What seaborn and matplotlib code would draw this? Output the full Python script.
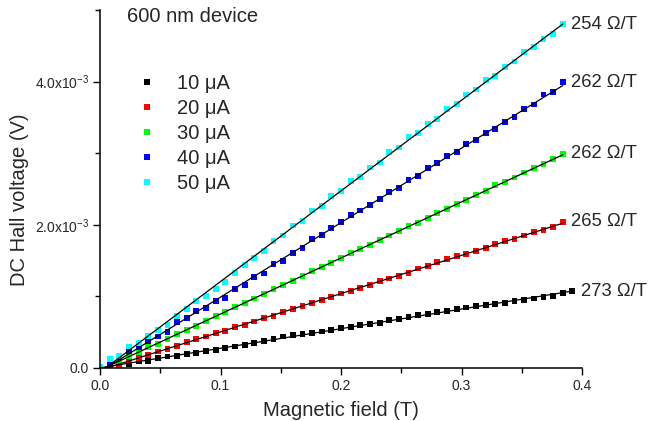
import numpy as np
import pandas as pd
import matplotlib
matplotlib.use("Agg")
import matplotlib.pyplot as plt
import seaborn as sns
from matplotlib.ticker import MultipleLocator

# ---------------- data ----------------
field_T = [0.000, 0.008, 0.016, 0.024, 0.032, 0.040, 0.048, 0.056, 0.064, 0.072,
           0.080, 0.088, 0.096, 0.104, 0.112, 0.120, 0.128, 0.136, 0.144, 0.152,
           0.160, 0.168, 0.176, 0.184, 0.192, 0.200, 0.208, 0.216, 0.224, 0.232,
           0.240, 0.248, 0.256, 0.264, 0.272, 0.280, 0.288, 0.296, 0.304, 0.312,
           0.320, 0.328, 0.336, 0.344, 0.352, 0.360, 0.368, 0.376, 0.384]
field_T_10uA = field_T + [0.392]

v_10uA_mV = [0.00, 0.01, 0.04, 0.06, 0.09, 0.10, 0.135, 0.16, 0.17, 0.20,
             0.215, 0.24, 0.25, 0.275, 0.30, 0.32, 0.35, 0.38, 0.41, 0.44,
             0.455, 0.475, 0.49, 0.51, 0.535, 0.56, 0.575, 0.60, 0.61, 0.63,
             0.665, 0.69, 0.715, 0.74, 0.76, 0.78, 0.80, 0.82, 0.845, 0.865,
             0.88, 0.895, 0.905, 0.935, 0.95, 0.97, 0.99, 1.01, 1.045, 1.075]
v_20uA_mV = [0.00, 0.02, 0.05, 0.09, 0.14, 0.18, 0.23, 0.27, 0.31, 0.36,
             0.40, 0.44, 0.49, 0.52, 0.57, 0.60, 0.65, 0.70, 0.73, 0.78,
             0.82, 0.86, 0.91, 0.95, 0.99, 1.04, 1.08, 1.12, 1.16, 1.21,
             1.25, 1.29, 1.33, 1.39, 1.43, 1.48, 1.52, 1.56, 1.59, 1.64,
             1.67, 1.73, 1.77, 1.80, 1.85, 1.90, 1.93, 1.97, 2.04]
v_30uA_mV = [0.00, 0.04, 0.09, 0.16, 0.22, 0.29, 0.34, 0.41, 0.47, 0.53,
             0.59, 0.66, 0.72, 0.78, 0.85, 0.91, 0.97, 1.03, 1.10, 1.16,
             1.22, 1.28, 1.35, 1.41, 1.47, 1.54, 1.60, 1.66, 1.72, 1.79,
             1.85, 1.91, 1.98, 2.03, 2.10, 2.17, 2.22, 2.29, 2.35, 2.41,
             2.47, 2.55, 2.60, 2.66, 2.73, 2.79, 2.85, 2.92, 2.99]
v_40uA_mV = [0.00, 0.06, 0.15, 0.23, 0.29, 0.37, 0.44, 0.50, 0.64, 0.70,
             0.79, 0.84, 0.93, 0.98, 1.10, 1.16, 1.27, 1.32, 1.45, 1.50,
             1.60, 1.68, 1.80, 1.86, 1.96, 2.04, 2.14, 2.20, 2.28, 2.36,
             2.46, 2.52, 2.62, 2.68, 2.79, 2.86, 2.96, 3.02, 3.13, 3.19,
             3.28, 3.34, 3.44, 3.50, 3.62, 3.68, 3.82, 3.86, 3.99]
v_50uA_mV = [0.02, 0.12, 0.17, 0.30, 0.35, 0.45, 0.53, 0.60, 0.72, 0.82,
             0.94, 1.00, 1.10, 1.20, 1.33, 1.44, 1.53, 1.64, 1.77, 1.85,
             1.99, 2.05, 2.20, 2.26, 2.40, 2.47, 2.61, 2.67, 2.80, 2.87,
             3.02, 3.08, 3.22, 3.28, 3.41, 3.48, 3.62, 3.69, 3.82, 3.89,
             4.02, 4.08, 4.20, 4.28, 4.41, 4.48, 4.60, 4.66, 4.80]

currents = ["10 μA", "20 μA", "30 μA", "40 μA", "50 μA"]
colors = ["#000000", "#FF0000", "#00FF00", "#0000FF", "#00FFFF"]
hall_labels = ["273 Ω/T", "265 Ω/T", "262 Ω/T", "262 Ω/T", "254 Ω/T"]
xticks_T = [0.0, 0.1, 0.2, 0.3, 0.4]
xtick_labels = ["0.0", "0.1", "0.2", "0.3", "0.4"]
yticks_V = [0.0, 2.0e-3, 4.0e-3]
ytick_labels = ["0.0", r"2.0x10$^{-3}$", r"4.0x10$^{-3}$"]
title_text = "600 nm device"

# ---------------- build table ----------------
fields = [field_T_10uA, field_T, field_T, field_T, field_T]
volts_mV = [v_10uA_mV, v_20uA_mV, v_30uA_mV, v_40uA_mV, v_50uA_mV]
frames = []
for cur, f, v in zip(currents, fields, volts_mV):
    frames.append(pd.DataFrame({"field": f,
                                "voltage": np.asarray(v) * 1e-3,
                                "current": cur}))
df = pd.concat(frames, ignore_index=True)

# ---------------- style ----------------
sns.set_style("ticks")
plt.rcParams["font.family"] = ["Liberation Sans", "DejaVu Sans"]
plt.rcParams["mathtext.fontset"] = "custom"
plt.rcParams["mathtext.rm"] = "Liberation Sans"
plt.rcParams["mathtext.it"] = "Liberation Sans"
plt.rcParams["mathtext.default"] = "regular"

fig = plt.figure(figsize=(6.49, 4.21), dpi=100)
ax = fig.add_axes([0.1541, 0.1259, 0.7427, 0.8504])

sns.scatterplot(data=df, x="field", y="voltage", hue="current",
                palette=dict(zip(currents, colors)), marker="s", s=18,
                linewidth=0, ax=ax, zorder=2)

for cur in currents:
    sub = df[df["current"] == cur]
    sns.regplot(data=sub, x="field", y="voltage", scatter=False, ci=None,
                truncate=True, ax=ax,
                line_kws=dict(color="black", lw=0.9, zorder=3))

for cur, lab in zip(currents, hall_labels):
    sub = df[df["current"] == cur]
    ax.annotate(lab, xy=(sub["field"].iloc[-1], sub["voltage"].iloc[-1]),
                xytext=(6, 0), textcoords="offset points", ha="left",
                va="center", fontsize=13.3, annotation_clip=False)

ax.set_xlim(0, 0.4)
ax.set_ylim(0, 5.0e-3)
ax.set_xticks(xticks_T)
ax.set_xticklabels(xtick_labels)
ax.set_yticks(yticks_V)
ax.set_yticklabels(ytick_labels)
ax.xaxis.set_minor_locator(MultipleLocator(0.05))
ax.yaxis.set_minor_locator(MultipleLocator(1.0e-3))
ax.tick_params(which="major", direction="out", length=5, width=1,
               labelsize=10, pad=3, color="black")
ax.tick_params(which="minor", direction="out", length=3.5, width=1,
               color="black")
for s in ["top", "right"]:
    ax.spines[s].set_visible(False)
for s in ["left", "bottom"]:
    ax.spines[s].set_linewidth(1.1)
    ax.spines[s].set_color("black")

ax.set_xlabel("Magnetic field (T)", fontsize=14.5, labelpad=6)
ax.set_ylabel("DC Hall voltage (V)", fontsize=14.5)
ax.yaxis.set_label_coords(-0.148, 0.469)

ax.text(0.056, 0.983, title_text, transform=ax.transAxes, fontsize=14.5,
        ha="left", va="center")

handles, labels = ax.get_legend_handles_labels()
ax.legend(handles=handles[:5], labels=labels[:5], loc="upper left",
          bbox_to_anchor=(0.085, 0.822), frameon=False, fontsize=14.5,
          handlelength=0.6, handletextpad=1.2, labelspacing=0.3,
          borderaxespad=0, borderpad=0)

fig.savefig("out.png", dpi=100)
